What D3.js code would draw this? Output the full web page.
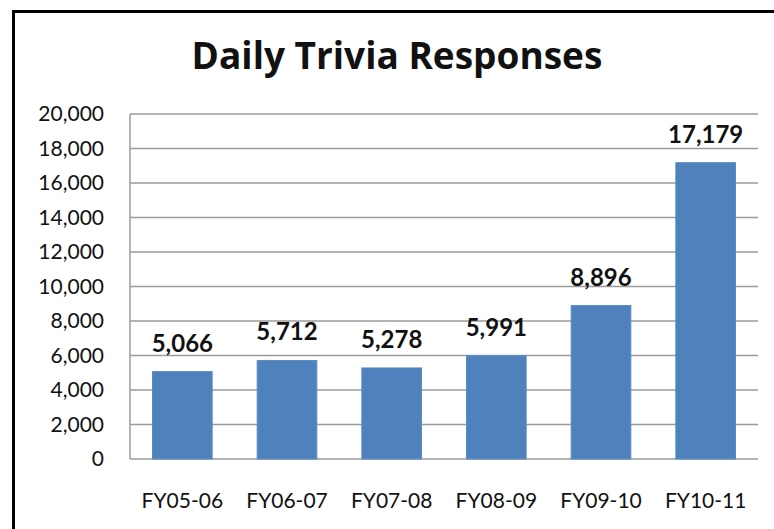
<!DOCTYPE html>
<html>
<head>
<meta charset="utf-8">
<script src="https://cdn.jsdelivr.net/npm/d3@7"></script>
<style>
  body { margin: 0; background: #fff; }
  svg { display: block; }
  text { font-family: Lato, "Open Sans", sans-serif; fill: #111; }
</style>
</head>
<body>
<svg width="774" height="529"></svg>
<script>
// data
const years = ["FY05-06", "FY06-07", "FY07-08", "FY08-09", "FY09-10", "FY10-11"];
const responses = [5066, 5712, 5278, 5991, 8896, 17179];
const yTicks = [0, 2000, 4000, 6000, 8000, 10000, 12000, 14000, 16000, 18000, 20000];

var svg = d3.select("svg"),
    margin = {top: 114, right: 16, bottom: 70, left: 130},
    width = 774 - margin.left - margin.right,
    height = 529 - margin.top - margin.bottom;

// outer frame (only top and left edges fall inside the picture)
svg.append("rect")
    .attr("x", 13.5).attr("y", 11.5)
    .attr("width", 800).attr("height", 560)
    .attr("fill", "none").attr("stroke", "#000").attr("stroke-width", 3);

svg.append("text")
    .attr("x", 397).attr("y", 69)
    .attr("text-anchor", "middle")
    .style("font-family", "'Open Sans', sans-serif")
    .style("font-size", "37px").style("font-weight", "bold")
    .text("Daily Trivia Responses");

var g = svg.append("g").attr("transform", "translate(" + margin.left + "," + margin.top + ")");

var x = d3.scaleBand().domain(years).range([0, width]).paddingInner(0.43).paddingOuter(0.215);
var y = d3.scaleLinear().domain([0, 20000]).range([height, 0]);

// gridlines
g.append("g")
    .selectAll("line")
    .data(yTicks)
    .join("line")
    .attr("x1", 0).attr("x2", width)
    .attr("y1", d => y(d)).attr("y2", d => y(d))
    .attr("stroke", "#9a9a9a").attr("stroke-width", 1.5);

g.append("line")
    .attr("x1", 0).attr("x2", 0).attr("y1", 0).attr("y2", height)
    .attr("stroke", "#9a9a9a").attr("stroke-width", 1.5);

// y axis labels
var yAxis = d3.axisLeft(y).tickValues(yTicks).tickFormat(d3.format(",")).tickSize(0).tickPadding(26);
g.append("g").call(yAxis)
    .call(a => a.select(".domain").remove())
    .selectAll("text").style("font-size", "21px").attr("fill", "#222");

// x axis labels
var xAxis = d3.axisBottom(x).tickSize(0).tickPadding(34);
g.append("g").attr("transform", "translate(0," + height + ")").call(xAxis)
    .call(a => a.select(".domain").remove())
    .selectAll("text").style("font-size", "21px").attr("fill", "#222");

// bars
g.selectAll(".bar")
    .data(responses)
    .join("rect")
    .attr("class", "bar")
    .attr("x", (d, i) => x(years[i]))
    .attr("width", x.bandwidth())
    .attr("y", d => y(d))
    .attr("height", d => height - y(d))
    .attr("fill", "#4f81bd")
    .attr("stroke", "#5a8cc6").attr("stroke-width", 1);

// value labels
g.selectAll(".val")
    .data(responses)
    .join("text")
    .attr("class", "val")
    .attr("x", (d, i) => x(years[i]) + x.bandwidth() / 2)
    .attr("y", d => y(d) - 20)
    .attr("text-anchor", "middle")
    .style("font-size", "24px").style("font-weight", "bold")
    .text(d => d3.format(",")(d));
</script>
</body>
</html>
